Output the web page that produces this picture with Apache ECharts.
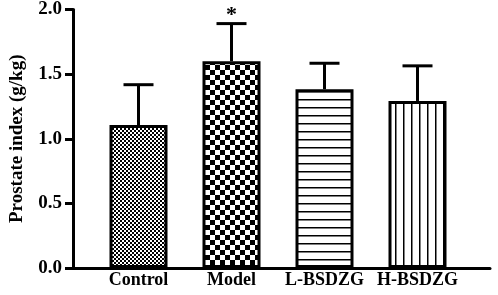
<!DOCTYPE html>
<html>
<head>
<meta charset="utf-8">
<script src="https://cdn.jsdelivr.net/npm/echarts@6/dist/echarts.min.js"></script>
<style>
  html, body { margin: 0; padding: 0; background: #fff; }
  #chart { width: 498px; height: 295px; }
</style>
</head>
<body>
<div id="chart"></div>
<script>
var groups = ["Control", "Model", "L-BSDZG", "H-BSDZG"];
var means = [1.10, 1.59, 1.375, 1.285];
var errs = [0.31, 0.29, 0.20, 0.27];
var marks = ["", "*", "", ""];
var yTicks = [0, 0.5, 1.0, 1.5, 2.0];

var font = "Liberation Serif";

// fill patterns drawn on small canvases
function makePattern(kind) {
  var c = document.createElement("canvas");
  var ctx;
  if (kind === "fine") {
    c.width = 4; c.height = 4;
    ctx = c.getContext("2d");
    ctx.fillStyle = "#fff"; ctx.fillRect(0, 0, 4, 4);
    ctx.fillStyle = "#000";
    ctx.fillRect(0, 0, 2, 2); ctx.fillRect(2, 2, 2, 2);
  } else if (kind === "coarse") {
    c.width = 10; c.height = 10;
    ctx = c.getContext("2d");
    ctx.fillStyle = "#fff"; ctx.fillRect(0, 0, 10, 10);
    ctx.fillStyle = "#000";
    ctx.fillRect(0, 0, 5, 5); ctx.fillRect(5, 5, 5, 5);
  } else if (kind === "hline") {
    c.width = 8; c.height = 8;
    ctx = c.getContext("2d");
    ctx.fillStyle = "#fff"; ctx.fillRect(0, 0, 8, 8);
    ctx.fillStyle = "#000"; ctx.fillRect(0, 3, 8, 1.5);
  } else {
    c.width = 8; c.height = 8;
    ctx = c.getContext("2d");
    ctx.fillStyle = "#fff"; ctx.fillRect(0, 0, 8, 8);
    ctx.fillStyle = "#000"; ctx.fillRect(3, 0, 1.5, 8);
  }
  return { image: c, repeat: "repeat" };
}
var patterns = [makePattern("fine"), makePattern("coarse"), makePattern("hline"), makePattern("vline")];

var myChart = echarts.init(document.getElementById("chart"));

var option = {
  animation: false,
  grid: [
    { left: 61, right: 8, top: 8, bottom: 27 },
    { left: 92, right: 34, top: 8, bottom: 27 }
  ],
  xAxis: [
    {
      gridIndex: 0,
      type: "value",
      min: 0,
      max: 1,
      axisLine: { show: true, onZero: false, lineStyle: { color: "#000", width: 3 } },
      axisTick: { show: false },
      axisLabel: { show: false },
      splitLine: { show: false }
    },
    {
      gridIndex: 1,
      type: "category",
      data: groups,
      axisLine: { show: false },
      axisTick: { show: false },
      axisLabel: {
        interval: 0,
        color: "#000",
        fontFamily: font,
        fontWeight: "bold",
        fontSize: 18,
        margin: 3
      }
    }
  ],
  yAxis: [
    {
      gridIndex: 0,
      type: "value",
      min: 0,
      max: 2,
      interval: 0.5,
      name: "Prostate index (g/kg)",
      nameLocation: "middle",
      nameGap: 46,
      nameTextStyle: { color: "#000", fontFamily: font, fontWeight: "bold", fontSize: 19 },
      axisLine: { show: true, lineStyle: { color: "#000", width: 3 } },
      axisTick: { show: true, length: 8, lineStyle: { color: "#000", width: 3 } },
      axisLabel: {
        color: "#000",
        fontFamily: font,
        fontWeight: "bold",
        fontSize: 19,
        margin: 11,
        formatter: function (v) {
          return yTicks.indexOf(v) >= 0 ? v.toFixed(1) : "";
        }
      },
      splitLine: { show: false }
    },
    {
      gridIndex: 1,
      type: "value",
      min: 0,
      max: 2,
      show: false
    }
  ],
  series: [
    {
      type: "bar",
      xAxisIndex: 1,
      yAxisIndex: 1,
      barWidth: 58,
      data: means.map(function (m, i) {
        return {
          value: m,
          itemStyle: { color: patterns[i], borderColor: "#000", borderWidth: 3 }
        };
      }),
      z: 2
    },
    {
      type: "custom",
      xAxisIndex: 1,
      yAxisIndex: 1,
      data: means.map(function (m, i) {
        return [i, m, m + errs[i]];
      }),
      renderItem: function (params, api) {
        var bottom = api.coord([api.value(0), api.value(1)]);
        var top = api.coord([api.value(0), api.value(2)]);
        var half = 15;
        var style = { stroke: "#000", lineWidth: 3 };
        var children = [
          { type: "line", shape: { x1: top[0], y1: bottom[1], x2: top[0], y2: top[1] }, style: style },
          { type: "line", shape: { x1: top[0] - half, y1: top[1], x2: top[0] + half, y2: top[1] }, style: style }
        ];
        var mark = marks[params.dataIndex];
        if (mark) {
          children.push({
            type: "text",
            style: {
              text: mark,
              x: top[0],
              y: top[1] + 3,
              align: "center",
              verticalAlign: "bottom",
              fill: "#000",
              font: "bold 22px " + font
            }
          });
        }
        return { type: "group", children: children };
      },
      z: 3
    }
  ]
};

myChart.setOption(option);
</script>
</body>
</html>
